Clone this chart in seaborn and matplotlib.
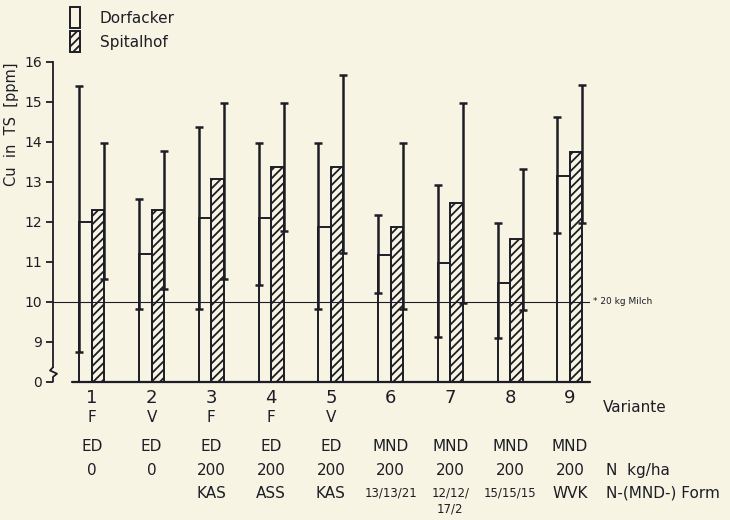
import numpy as np
import pandas as pd
import matplotlib
matplotlib.use("Agg")
import matplotlib.pyplot as plt
from matplotlib.patches import Patch
import seaborn as sns

# Daten
varianten = ["1", "2", "3", "4", "5", "6", "7", "8", "9"]
dorf_mittel = [12.0, 11.2, 12.1, 12.1, 11.88, 11.17, 10.96, 10.46, 13.14]
dorf_min = [8.75, 9.83, 9.83, 10.42, 9.83, 10.21, 9.11, 9.09, 11.73]
dorf_max = [15.39, 12.58, 14.38, 13.98, 13.96, 12.17, 12.93, 11.96, 14.63]
spital_mittel = [12.29, 12.3, 13.08, 13.36, 13.36, 11.88, 12.46, 11.56, 13.75]
spital_min = [10.58, 10.33, 10.58, 11.78, 11.21, 9.83, 9.98, 9.79, 11.96]
spital_max = [13.98, 13.77, 14.98, 14.98, 15.67, 13.96, 14.96, 13.33, 15.42]

zeile_fv = ["F", "V", "F", "F", "V", "", "", "", ""]
zeile_art = ["ED", "ED", "ED", "ED", "ED", "MND", "MND", "MND", "MND"]
zeile_n = ["0", "0", "200", "200", "200", "200", "200", "200", "200"]
zeile_form = ["", "", "KAS", "ASS", "KAS", "13/13/21", "12/12/\n17/2", "15/15/15", "WVK"]
y_ticks = [8, 9, 10, 11, 12, 13, 14, 15, 16]
y_labels = ["0", "9", "10", "11", "12", "13", "14", "15", "16"]
grenzwert = 10

INK = "#1d1d26"
BG = "#f8f4e4"

df = pd.DataFrame({
    "Variante": varianten * 2,
    "Cu": dorf_mittel + spital_mittel,
    "Standort": ["Dorfacker"] * 9 + ["Spitalhof"] * 9,
})

sns.set_style("ticks")
plt.rcParams["font.family"] = ["DejaVu Sans"]
plt.rcParams["hatch.linewidth"] = 1.3
plt.rcParams["hatch.color"] = INK

fig = plt.figure(figsize=(7.3, 5.2), dpi=100, facecolor=BG)
ax = fig.add_axes([53 / 730, 1 - 381.7 / 520, 536.6 / 730, 320 / 520])
ax.set_facecolor(BG)

sns.barplot(data=df, x="Variante", y="Cu", hue="Standort", order=varianten,
            width=0.42, gap=0, errorbar=None, ax=ax, legend=False)

for bar in ax.containers[0]:
    bar.set_facecolor("none")
    bar.set_edgecolor(INK)
    bar.set_linewidth(1.4)
    bar.set_zorder(3)
for bar in ax.containers[1]:
    bar.set_facecolor("none")
    bar.set_edgecolor(INK)
    bar.set_linewidth(1.4)
    bar.set_hatch("////")
    bar.set_zorder(3)

# Streuung: an der linken Kante (Dorfacker) bzw. rechten Kante (Spitalhof)
x_dorf = [b.get_x() for b in ax.containers[0]]
x_spit = [b.get_x() + b.get_width() for b in ax.containers[1]]
dm, dl, dh = map(np.array, (dorf_mittel, dorf_min, dorf_max))
sm, sl, sh = map(np.array, (spital_mittel, spital_min, spital_max))
ax.errorbar(x_dorf, dm, yerr=[dm - dl, dh - dm], fmt="none", ecolor=INK,
            elinewidth=1.8, capsize=3, capthick=1.8, zorder=4)
ax.errorbar(x_spit, sm, yerr=[sm - sl, sh - sm], fmt="none", ecolor=INK,
            elinewidth=1.8, capsize=3, capthick=1.8, zorder=4)

# Achsen
ax.set_xlim(-0.65, 8.33)
ax.set_ylim(8, 16)
ax.set_yticks(y_ticks)
ax.set_yticklabels(y_labels, fontsize=10, color=INK)
ax.tick_params(axis="y", direction="out", length=5, width=1.3, color=INK, pad=3)
ax.set_xticks(range(9))
ax.set_xticklabels(varianten, fontsize=13, color=INK)
ax.tick_params(axis="x", length=0, pad=5)
ax.set_xlabel("")
ax.set_ylabel("Cu  in  TS  [ppm]", fontsize=10.5, color=INK)
ax.yaxis.set_label_coords(-0.063, 0.805)

for s in ["top", "right", "bottom"]:
    ax.spines[s].set_visible(False)
ax.spines["left"].set_color(INK)
ax.spines["left"].set_linewidth(1.3)
ax.spines["left"].set_bounds(8.36, 16)

# Achsenbruch
px = 1 / 59.75
ax.plot([-0.65, -0.65, -0.65 + 4 * px, -0.65 - 3 * px, -0.65, -0.65],
        [8.0, 8.12, 8.2, 8.28, 8.36, 8.36], color=INK, lw=1.3, clip_on=False,
        solid_joinstyle="round")

# Grundlinie und Bezugslinie
ax.plot([-0.33, 8.33], [8, 8], color=INK, lw=1.6, clip_on=False, zorder=5)
ax.axhline(grenzwert, color=INK, lw=0.8, zorder=1)
ax.text(8.38, grenzwert, "* 20 kg Milch", fontsize=6.5, color=INK, va="center", ha="left")

# Tabellenzeilen unter der Achse
trans = ax.get_xaxis_transform()
for i in range(9):
    ax.text(i, -0.113, zeile_fv[i], transform=trans, ha="center", va="center", fontsize=11, color=INK)
    ax.text(i, -0.204, zeile_art[i], transform=trans, ha="center", va="center", fontsize=11, color=INK)
    ax.text(i, -0.276, zeile_n[i], transform=trans, ha="center", va="center", fontsize=11, color=INK)
    zweizeilig = "\n" in zeile_form[i]
    fs = 11 if len(zeile_form[i]) <= 3 else 8.5
    ax.text(i, -0.348 + (0.022 if zweizeilig else 0), zeile_form[i], transform=trans,
            ha="center", va="top" if zweizeilig else "center",
            fontsize=fs, color=INK, linespacing=1.3)
ax.text(8.55, -0.082, "Variante", transform=trans, ha="left", va="center", fontsize=11, color=INK)
ax.text(8.6, -0.276, "N  kg/ha", transform=trans, ha="left", va="center", fontsize=11, color=INK)
ax.text(8.6, -0.348, "N-(MND-) Form", transform=trans, ha="left", va="center", fontsize=11, color=INK)

# Legende
handles = [Patch(facecolor="none", edgecolor=INK, linewidth=1.4, label="Dorfacker"),
           Patch(facecolor="none", edgecolor=INK, linewidth=1.4, hatch="////", label="Spitalhof")]
ax.legend(handles=handles, loc="upper left", bbox_to_anchor=(0.02, 1.19), frameon=False,
          fontsize=11, handlelength=0.65, handleheight=1.75, handletextpad=1.3,
          labelspacing=0.2, labelcolor=INK, borderaxespad=0)

fig.savefig("out.png", dpi=100, facecolor=BG)
